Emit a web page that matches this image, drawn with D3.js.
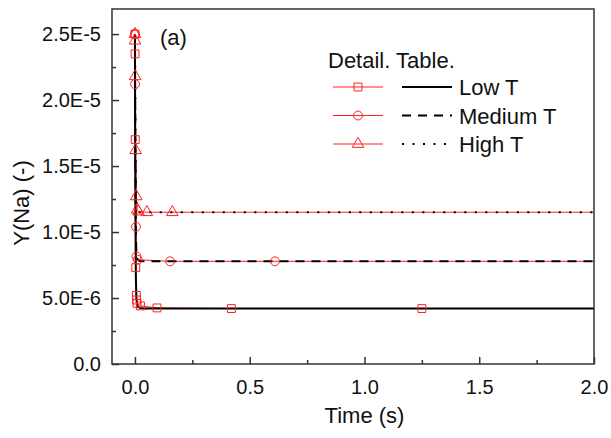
<!DOCTYPE html>
<html>
<head>
<meta charset="utf-8">
<script src="https://cdn.jsdelivr.net/npm/d3@7"></script>
<style>
  body { margin: 0; background: #fff; }
  text { font-family: "Liberation Sans", Arial, sans-serif; fill: #111; }
</style>
</head>
<body>
<div id="chart"></div>
<script>
// model curves (black lines)
var modelTime = [0, 0.001, 0.002, 0.003, 0.004, 0.006, 0.008, 0.012, 0.02, 0.04, 0.1, 2.0]
var lowModel  = [2.5e-5, 1.75e-5, 1.2e-5, 8.6e-6, 6.6e-6, 5.1e-6, 4.6e-6, 4.35e-6, 4.25e-6, 4.2e-6, 4.2e-6, 4.2e-6]
var medModel  = [2.5e-5, 1.95e-5, 1.5e-5, 1.2e-5, 1.0e-5, 8.6e-6, 8.1e-6, 7.9e-6, 7.8e-6, 7.78e-6, 7.78e-6, 7.78e-6]
var highModel = [2.5e-5, 2.2e-5, 1.85e-5, 1.6e-5, 1.42e-5, 1.25e-5, 1.19e-5, 1.16e-5, 1.15e-5, 1.15e-5, 1.15e-5, 1.15e-5]

// detail table (red lines + symbols)
var lowTime  = [0, 0.0004, 0.0012, 0.0035, 0.006, 0.007, 0.009, 0.024, 0.096, 0.42, 1.25, 2.6]
var lowVal   = [2.5e-5, 2.35e-5, 1.7e-5, 7.3e-6, 5.2e-6, 4.85e-6, 4.6e-6, 4.4e-6, 4.25e-6, 4.2e-6, 4.2e-6, 4.2e-6]
var medTime  = [0, 0.0006, 0.0045, 0.0065, 0.012, 0.153, 0.61, 2.4]
var medVal   = [2.5e-5, 2.12e-5, 1.04e-5, 8.15e-6, 7.9e-6, 7.78e-6, 7.78e-6, 7.78e-6]
var highTime = [0, 0.0002, 0.0008, 0.0028, 0.006, 0.01, 0.015, 0.052, 0.163, 2.5]
var highVal  = [2.5e-5, 2.45e-5, 2.18e-5, 1.62e-5, 1.27e-5, 1.17e-5, 1.155e-5, 1.15e-5, 1.15e-5, 1.15e-5]

var seriesNames = ['Low T', 'Medium T', 'High T']
var xTicks = [0, 0.5, 1.0, 1.5, 2.0]
var yTicks = [0, 5e-6, 1e-5, 1.5e-5, 2e-5, 2.5e-5]
var yTickLabels = ['0.0', '5.0E-6', '1.0E-5', '1.5E-5', '2.0E-5', '2.5E-5']

var width = 611, height = 438
var margin = { top: 9, right: 17, bottom: 74, left: 112 }
var w = width - margin.left - margin.right
var h = height - margin.top - margin.bottom

var x = d3.scaleLinear().domain([-0.1, 2.0]).range([0, w])
var y = d3.scaleLinear().domain([0, 2.69e-5]).range([h, 0])

var svg = d3.select('#chart').append('svg')
  .attr('width', width).attr('height', height)
var g = svg.append('g').attr('transform', 'translate(' + margin.left + ',' + margin.top + ')')

g.append('clipPath').attr('id', 'clip')
  .append('rect').attr('width', w).attr('height', h)

function pts(ts, vs) { return ts.map(function (t, i) { return [t, vs[i]] }) }

var line = d3.line().x(function (d) { return x(d[0]) }).y(function (d) { return y(d[1]) })

var red = '#ff2020'
var detail = [pts(lowTime, lowVal), pts(medTime, medVal), pts(highTime, highVal)]
var model = [pts(modelTime, lowModel), pts(modelTime, medModel), pts(modelTime, highModel)]
var dashes = [null, '9,7', '2,8.5']
var symbols = [d3.symbolSquare, d3.symbolCircle, d3.symbolTriangle]
var symSize = [62, 62, 58]

var plot = g.append('g').attr('clip-path', 'url(#clip)')

detail.forEach(function (d) {
  plot.append('path').datum(d).attr('d', line)
    .attr('fill', 'none').attr('stroke', red).attr('stroke-width', 1)
})
model.forEach(function (d, i) {
  plot.append('path').datum(d).attr('d', line)
    .attr('fill', 'none').attr('stroke', '#000').attr('stroke-width', 2)
    .attr('stroke-dasharray', dashes[i])
})
detail.forEach(function (d, i) {
  plot.selectAll('.m' + i).data(d).enter().append('path')
    .attr('class', 'm' + i)
    .attr('transform', function (p) { return 'translate(' + x(p[0]) + ',' + y(p[1]) + ')' })
    .attr('d', d3.symbol().type(symbols[i]).size(symSize[i]))
    .attr('fill', 'none').attr('stroke', red).attr('stroke-width', 1)
})

// frame
g.append('rect').attr('width', w).attr('height', h)
  .attr('fill', 'none').attr('stroke', '#333').attr('stroke-width', 1.5)

// axes with inward ticks
var xAxis = g.append('g').attr('transform', 'translate(0,' + h + ')')
  .call(d3.axisBottom(x).tickValues(xTicks).tickFormat(d3.format('.1f')).tickSizeInner(-7).tickSizeOuter(0).tickPadding(16))
var xMinor = g.append('g').attr('transform', 'translate(0,' + h + ')')
  .call(d3.axisBottom(x).tickValues([0.25, 0.75, 1.25, 1.75]).tickFormat('').tickSizeInner(-4).tickSizeOuter(0))
var yAxis = g.append('g')
  .call(d3.axisLeft(y).tickValues(yTicks).tickFormat(function (d, i) { return yTickLabels[i] }).tickSizeInner(-7).tickSizeOuter(0).tickPadding(11))
var yMinor = g.append('g')
  .call(d3.axisLeft(y).tickValues([2.5e-6, 7.5e-6, 1.25e-5, 1.75e-5, 2.25e-5]).tickFormat('').tickSizeInner(-4).tickSizeOuter(0))

;[xAxis, xMinor, yAxis, yMinor].forEach(function (a) {
  a.select('.domain').remove()
  a.selectAll('line').attr('stroke', '#333').attr('stroke-width', 1.5)
  a.selectAll('text').style('font-size', '20px').attr('fill', '#111')
    .style('font-family', '"Liberation Sans", Arial, sans-serif')
})

// axis titles
svg.append('text').attr('x', margin.left + x(1.0)).attr('y', 423)
  .attr('text-anchor', 'middle').style('font-size', '22px').text('Time (s)')
svg.append('text').attr('transform', 'translate(29,' + 203 + ') rotate(-90)')
  .attr('text-anchor', 'middle').style('font-size', '22px').text('Y(Na) (-)')

// panel label
svg.append('text').attr('x', 160).attr('y', 45).style('font-size', '22px').text('(a)')

// legend
var lg = svg.append('g')
lg.append('text').attr('x', 328).attr('y', 68).style('font-size', '22px').text('Detail. Table.')
seriesNames.forEach(function (name, i) {
  var ly = 87 + i * 28.5
  lg.append('line').attr('x1', 333).attr('x2', 383).attr('y1', ly).attr('y2', ly)
    .attr('stroke', red).attr('stroke-width', 1)
  lg.append('path').attr('transform', 'translate(358,' + ly + ')')
    .attr('d', d3.symbol().type(symbols[i]).size(symSize[i]))
    .attr('fill', 'none').attr('stroke', red).attr('stroke-width', 1)
  lg.append('line').attr('x1', 402).attr('x2', 452).attr('y1', ly).attr('y2', ly)
    .attr('stroke', '#000').attr('stroke-width', 2).attr('stroke-dasharray', dashes[i])
  lg.append('text').attr('x', 459).attr('y', ly + 8).style('font-size', '22px').text(name)
})
</script>
</body>
</html>
